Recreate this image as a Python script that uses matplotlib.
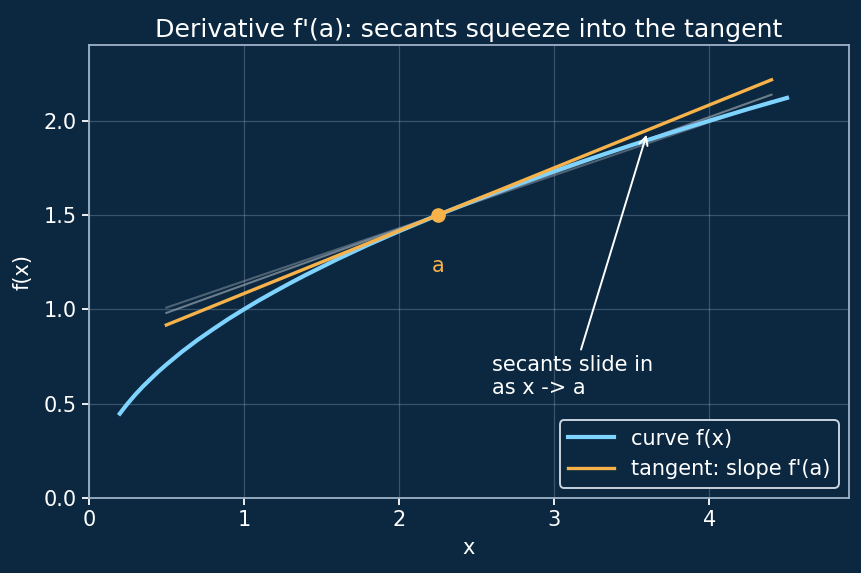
import matplotlib
matplotlib.use("Agg")
import matplotlib.pyplot as plt

# curve f(x)
curve_x = [0.2, 0.225, 0.25, 0.275, 0.3, 0.35, 0.4, 0.45, 0.5, 0.6, 0.7, 0.8, 0.9, 1.0,
           1.1, 1.2, 1.3, 1.4, 1.6, 1.8, 2.0, 2.25, 2.5, 2.75, 3.0, 3.25, 3.5, 3.75,
           4.0, 4.25, 4.5]
curve_y = [0.447, 0.474, 0.500, 0.524, 0.548, 0.592, 0.632, 0.671, 0.707, 0.775, 0.837,
           0.894, 0.949, 1.000, 1.049, 1.095, 1.140, 1.183, 1.265, 1.342, 1.414, 1.500,
           1.581, 1.658, 1.732, 1.803, 1.871, 1.936, 2.000, 2.062, 2.121]

# tangent line at a
tan_x = [0.5, 4.4]
tan_y = [0.917, 2.217]

# secant lines
sec1_x = [0.5, 4.4]
sec1_y = [1.009, 2.104]
sec2_x = [0.5, 4.4]
sec2_y = [0.981, 2.138]

a_x, a_y = 2.25, 1.5

BG = '#0b2840'
FG = 'white'
SPINE = '#9fb3c8'

fig = plt.figure(figsize=(8.62, 5.73), dpi=100, facecolor=BG)
ax = fig.add_axes([0.103, 0.131, 0.882, 0.790])
ax.set_facecolor(BG)

ax.plot(sec1_x, sec1_y, color='#a0aab5', lw=1.5, alpha=0.45, zorder=2)
ax.plot(sec2_x, sec2_y, color='#a0aab5', lw=1.5, alpha=0.65, zorder=2)
ax.plot(curve_x, curve_y, color='#7fd3ff', lw=3.0, label='curve f(x)', zorder=3)
ax.plot(tan_x, tan_y, color='#f7b24a', lw=2.4, label="tangent: slope f'(a)", zorder=4)
ax.plot([a_x], [a_y], 'o', color='#f7b24a', ms=9.5, zorder=5)
ax.text(a_x, 1.23, 'a', color='#f7b24a', fontsize=15, ha='center', va='center')

ax.annotate('secants slide in\nas x -> a', xy=(3.6, 1.94), xytext=(2.6, 0.55),
            color=FG, fontsize=15,
            arrowprops=dict(arrowstyle='->', color=FG, lw=1.4))

ax.set_xlim(0, 4.9)
ax.set_ylim(0, 2.4)
ax.set_xticks([0, 1, 2, 3, 4])
ax.set_yticks([0.0, 0.5, 1.0, 1.5, 2.0])
ax.grid(True, color='#8fa6bd', alpha=0.35, lw=0.9)
ax.set_axisbelow(True)
for s in ['top', 'right', 'left', 'bottom']:
    ax.spines[s].set_color(SPINE)
    ax.spines[s].set_linewidth(1.3)
ax.tick_params(colors=FG, labelsize=15, length=5, width=1.3)
for t in ax.get_xticklines() + ax.get_yticklines():
    t.set_color(SPINE)
ax.set_xlabel('x', color=FG, fontsize=15, labelpad=6)
ax.set_ylabel('f(x)', color=FG, fontsize=15, labelpad=8)
ax.set_title("Derivative f'(a): secants squeeze into the tangent", color=FG, fontsize=18.2)

leg = ax.legend(loc='lower right', fontsize=15, facecolor=BG, edgecolor='#c8d4e0',
                labelcolor=FG, framealpha=1, handlelength=2.2)
leg.get_frame().set_linewidth(1.4)

fig.savefig('out.png', dpi=100, facecolor=BG)
